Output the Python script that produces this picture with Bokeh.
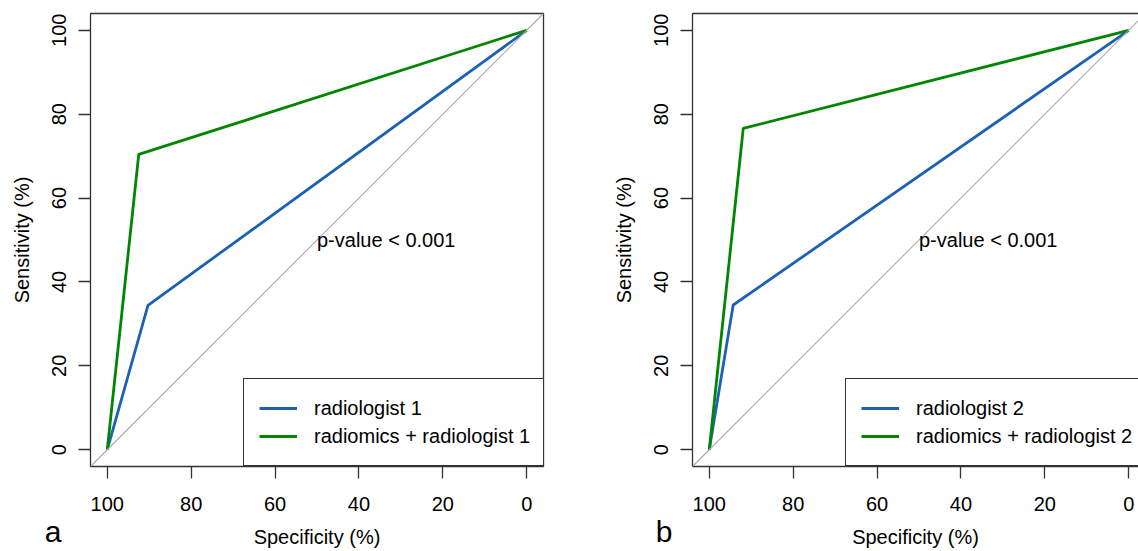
from bokeh.plotting import figure
from bokeh.models import Range1d, FixedTicker, Legend, LegendItem, Label, Slope, LinearAxis
from bokeh.layouts import row
from bokeh.embed import file_html
from bokeh.resources import INLINE

# ---------------- data ----------------
tick_values = [0, 20, 40, 60, 80, 100]
tick_labels = {0: "0", 20: "20", 40: "40", 60: "60", 80: "80", 100: "100"}

labels_a = ["radiologist 1", "radiomics + radiologist 1"]
labels_b = ["radiologist 2", "radiomics + radiologist 2"]

spec_a_rad = [100, 90.3, 0]
sens_a_rad = [0, 34.4, 100]
spec_a_comb = [100, 92.5, 0]
sens_a_comb = [0, 70.4, 100]

spec_b_rad = [100, 94.3, 0]
sens_b_rad = [0, 34.5, 100]
spec_b_comb = [100, 91.9, 0]
sens_b_comb = [0, 76.6, 100]

p_text = "p-value < 0.001"
p_pos = [50, 50]
x_title = "Specificity (%)"
y_title = "Sensitivity (%)"
panel_tags = ["a", "b"]

# ---------------- style ----------------
FONT = "Liberation Sans"
FS = "20px"
DARK = "#333333"
BLUE = "#1c61b6"
GREEN = "#008600"
GREY = "#a9a9a9"
H = 551
B_TOP, B_BOTTOM = 13, 85
PX_PER_UNIT = 453 / 108.0


def px_below(py):
    """data y for a pixel row below the frame bottom (frame bottom = data -4)"""
    return -4 - (py - (H - B_BOTTOM)) / PX_PER_UNIT


def make_panel(tag, spec_r, sens_r, spec_c, sens_c, labels, width, bl, br,
               full_box, tag_dx, tag_side):
    frame_w = width - bl - br
    x_end = 104 - frame_w / PX_PER_UNIT
    p = figure(width=width, height=H, output_backend="svg", toolbar_location=None,
               x_range=Range1d(104, x_end), y_range=Range1d(-4, 104),
               min_border_left=bl, min_border_right=br,
               min_border_top=B_TOP, min_border_bottom=B_BOTTOM,
               background_fill_color="white", border_fill_color="white")
    p.grid.visible = False
    for ax in (p.xaxis[0], p.yaxis[0]):
        ax.ticker = FixedTicker(ticks=tick_values)
        ax.major_label_overrides = tick_labels
        ax.minor_tick_line_color = None
        ax.major_tick_in = 0
        ax.major_tick_out = 12
        ax.major_tick_line_color = DARK
        ax.major_tick_line_width = 1.3
        ax.major_label_text_font = FONT
        ax.major_label_text_font_size = FS
        ax.major_label_text_color = "black"
        ax.axis_line_width = 1.3
        ax.axis_line_color = None if full_box else DARK
        ax.axis_label_text_font = FONT
        ax.axis_label_text_font_size = FS
        ax.axis_label_text_font_style = "normal"
        ax.axis_label_text_color = "black"
    p.xaxis.major_label_standoff = 18
    p.xaxis.axis_label = x_title
    p.xaxis.axis_label_standoff = 12
    p.yaxis.major_label_standoff = 12
    p.yaxis.major_label_orientation = "vertical"
    p.yaxis.axis_label = y_title
    p.yaxis.axis_label_standoff = 17

    if full_box:
        p.outline_line_color = DARK
        p.outline_line_width = 1.3
        p.outline_line_alpha = 1
    else:
        p.outline_line_color = None
        top = LinearAxis(ticker=FixedTicker(ticks=[]), major_tick_out=0, major_tick_in=0,
                         minor_tick_out=0, minor_tick_in=0, major_label_standoff=0,
                         axis_line_color=DARK, axis_line_width=1.3,
                         major_label_text_font_size="0px")
        p.add_layout(top, "above")

    p.add_layout(Slope(gradient=-1, y_intercept=100, line_color=GREY, line_width=1.1))

    r1 = p.line(spec_r, sens_r, line_color=BLUE, line_width=2.8, line_join="round")
    r2 = p.line(spec_c, sens_c, line_color=GREEN, line_width=2.8, line_join="round")

    legend = Legend(items=[LegendItem(label=labels[0], renderers=[r1]),
                           LegendItem(label=labels[1], renderers=[r2])],
                    location=(153, 0), padding=15, margin=0, spacing=0,
                    glyph_width=38, glyph_height=28, label_height=28,
                    label_standoff=17, label_text_font=FONT, label_text_font_size=FS,
                    label_text_color="black", border_line_color=DARK,
                    border_line_width=1.3, border_line_alpha=1,
                    background_fill_color="white", background_fill_alpha=1)
    p.add_layout(legend, "center")

    p.add_layout(Label(x=p_pos[0], y=p_pos[1], text=p_text, text_align="left",
                       text_baseline="middle", text_font=FONT, text_font_size=FS,
                       text_color="black"))
    # panel tag, placed in a side panel (not clipped), positioned in data space
    p.add_layout(Label(x=104 + tag_dx / PX_PER_UNIT, y=px_below(531), text=tag,
                       text_align="center", text_baseline="alphabetic",
                       text_font=FONT, text_font_size="30px", text_color="black"), tag_side)
    return p


pa = make_panel(panel_tags[0], spec_a_rad, sens_a_rad, spec_a_comb, sens_a_comb, labels_a,
                width=590, bl=90, br=47, full_box=True, tag_dx=90 - 52.5, tag_side="right")
pb = make_panel(panel_tags[1], spec_b_rad, sens_b_rad, spec_b_comb, sens_b_comb, labels_b,
                width=548, bl=102, br=0, full_box=False, tag_dx=692.3 - 664, tag_side="left")

layout = row(pa, pb, spacing=0)
open("out.html", "w").write(file_html(layout, INLINE))
